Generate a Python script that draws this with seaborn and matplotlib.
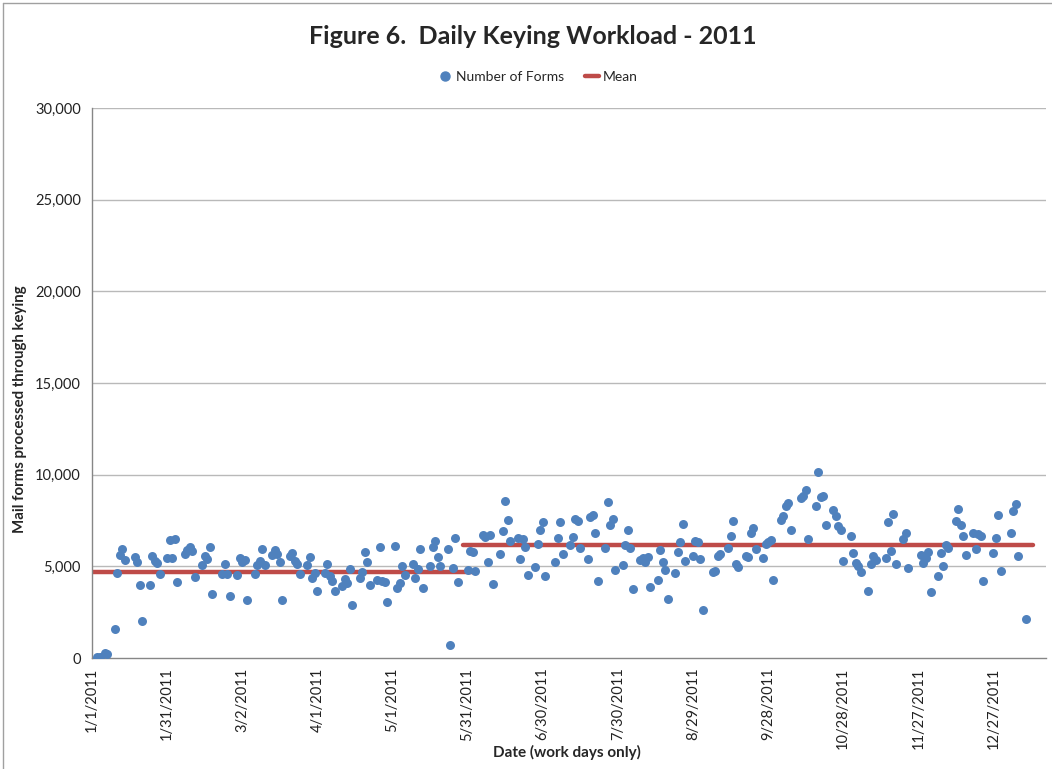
import pandas as pd
import numpy as np
import seaborn as sns
import matplotlib
matplotlib.use("Agg")
import matplotlib.pyplot as plt
from matplotlib.lines import Line2D

# work days, as day offsets from 1/1/2011, and forms keyed that day
day_offset = [2, 3, 5, 6, 9, 10, 11, 12, 13, 17, 18, 19, 20, 23, 24, 25, 26, 27,
              30, 31, 32, 33, 34, 37, 38, 39, 40, 41, 44, 45, 46, 47, 48,
              52, 53, 54, 55, 58, 59, 60, 61, 62, 65, 66, 67, 68, 69,
              72, 73, 74, 75, 76, 79, 80, 81, 82, 83, 86, 87, 88, 89, 90,
              93, 94, 95, 96, 97, 100, 101, 102, 103, 104, 107, 108, 109, 110, 111,
              114, 115, 116, 117, 118, 121, 122, 123, 124, 125, 128, 129, 130, 131, 132,
              135, 136, 137, 138, 139, 142, 143, 144, 145, 146, 150, 151, 152, 153,
              156, 157, 158, 159, 160, 163, 164, 165, 166, 167, 170, 171, 172, 173, 174,
              177, 178, 179, 180, 181, 185, 186, 187, 188, 191, 192, 193, 194, 195,
              198, 199, 200, 201, 202, 205, 206, 207, 208, 209, 212, 213, 214, 215, 216,
              219, 220, 221, 222, 223, 226, 227, 228, 229, 230, 233, 234, 235, 236, 237,
              240, 241, 242, 243, 244, 248, 249, 250, 251, 254, 255, 256, 257, 258,
              261, 262, 263, 264, 265, 268, 269, 270, 271, 272, 275, 276, 277, 278, 279,
              283, 284, 285, 286, 289, 290, 291, 292, 293, 296, 297, 298, 299, 300,
              303, 304, 305, 306, 307, 310, 311, 312, 313, 317, 318, 319, 320, 321,
              324, 325, 326, 331, 332, 333, 334, 335, 338, 339, 340, 341, 342,
              345, 346, 347, 348, 349, 352, 353, 354, 355, 356, 360, 361, 362, 363,
              367, 368, 369, 370, 373]
forms = [60, 30, 270, 220, 1580, 4640, 5640, 5950, 5330, 5490, 5240, 3960, 2020, 4000, 5540, 5270, 5180, 4560,
         5430, 6440, 5430, 6490, 4120, 5670, 5910, 6050, 5820, 4420, 5050, 5540, 5420, 6030, 3490,
         4580, 5140, 4580, 3400, 4510, 5460, 5220, 5330, 3160, 4580, 5090, 5270, 5950, 5050,
         5640, 5910, 5670, 5220, 3180, 5580, 5730, 5310, 5140, 4580, 5050, 5510, 4360, 4640, 3630,
         4620, 5140, 4450, 4200, 3630, 3940, 4310, 4090, 4870, 2870, 4360, 4670, 5780, 5240, 4000,
         4270, 6070, 4220, 4120, 3070, 6130, 3820, 4090, 5000, 4530, 5130, 4360, 4870, 5960, 3800,
         5040, 6070, 6400, 5510, 5020, 5950, 710, 4930, 6560, 4150, 4780, 5850, 5780, 4750,
         6690, 6600, 5250, 6690, 4050, 5650, 6930, 8540, 7530, 6380, 6560, 5380, 6490, 6070, 4510,
         4940, 6220, 7000, 7420, 4490, 5250, 6560, 7420, 5670, 6180, 6580, 7600, 7450, 6000,
         5400, 7670, 7820, 6840, 4200, 5980, 8510, 7230, 7560, 4800, 5090, 6180, 6960, 5980, 3760,
         5360, 5470, 5220, 5530, 3870, 4230, 5870, 5250, 4800, 3220, 4650, 5780, 6350, 7290, 5290,
         5540, 6380, 6330, 5380, 2620, 4670, 4750, 5560, 5650, 5980, 6630, 7450, 5140, 4980,
         5540, 5510, 6800, 7090, 5950, 5470, 6220, 6330, 6420, 4270, 7530, 7720, 8310, 8460, 6960,
         8730, 8850, 9180, 6510, 8310, 10160, 8780, 8850, 7230, 8090, 7760, 7180, 7000, 5290,
         6630, 5740, 5180, 5000, 4690, 3650, 5140, 5540, 5350, 5430, 7420, 5850, 7870, 5140,
         6490, 6820, 4890, 5600, 5180, 5460, 5780, 3600, 4490, 5740, 5040, 6160, 6020,
         7470, 8110, 7230, 6630, 5640, 6840, 5950, 6740, 6630, 4200, 5710, 6550, 7820, 4730,
         6800, 8000, 8420, 5540, 2130]

# two period means (Jan-May, Jun-Jan)
mean_start = [0, 148]
mean_end = [152, 376]
mean_value = [4670, 6170]

y_ticks = [0, 5000, 10000, 15000, 20000, 25000, 30000]
x_tick_offsets = [0, 30, 60, 90, 120, 150, 180, 210, 240, 270, 300, 330, 360]

base = pd.Timestamp("2011-01-01")
df = pd.DataFrame({"date": base + pd.to_timedelta(day_offset, unit="D"), "forms": forms})

mean_rows = []
for i, (s, e, v) in enumerate(zip(mean_start, mean_end, mean_value)):
    mean_rows.append({"date": base + pd.Timedelta(days=s), "value": v, "seg": i})
    mean_rows.append({"date": base + pd.Timedelta(days=e), "value": v, "seg": i})
mean_df = pd.DataFrame(mean_rows)

sns.set_style("white")
plt.rcParams["font.family"] = ["Lato", "DejaVu Sans"]

blue = "#4f81bd"
red = "#be4b48"

fig = plt.figure(figsize=(10.52, 7.69), dpi=100)
ax = fig.add_axes([92 / 1052, 1 - 658 / 769, (1046 - 92) / 1052, (658 - 108) / 769])

for tick in y_ticks[1:]:
    ax.axhline(tick, color="#b9b9b9", lw=1.0, zorder=0)

sns.lineplot(data=mean_df, x="date", y="value", units="seg", estimator=None,
             color=red, lw=3.2, ax=ax, zorder=2, legend=False)
sns.scatterplot(data=df, x="date", y="forms", color=blue, s=42, linewidth=0,
                ax=ax, zorder=3, legend=False)

ax.set_ylim(0, 30000)
ax.set_xlim(base, base + pd.Timedelta(days=381))
ax.set_yticks(y_ticks)
ax.yaxis.set_major_formatter(matplotlib.ticker.FuncFormatter(lambda v, p: f"{int(v):,}"))
xt = [base + pd.Timedelta(days=d) for d in x_tick_offsets]
ax.set_xticks(xt)
ax.set_xticklabels([f"{d.month}/{d.day}/{d.year}" for d in xt], rotation=90)

for side in ["top", "right"]:
    ax.spines[side].set_visible(False)
for side in ["left", "bottom"]:
    ax.spines[side].set_color("#868686")
    ax.spines[side].set_linewidth(1.0)
ax.tick_params(axis="both", direction="out", length=5, width=1, color="#868686",
               labelsize=10.5, labelcolor="#222222", pad=3)
ax.tick_params(axis="x", pad=2)
ax.set_xlabel("")
ax.set_ylabel("")

fig.text(567 / 1052, 1 - 752 / 769, "Date (work days only)", ha="center", va="center",
         fontsize=11, fontweight="bold")
fig.text(20 / 1052, 1 - 409 / 769, "Mail forms processed through keying", ha="center",
         va="center", rotation=90, fontsize=10.8, fontweight="bold")
fig.text(533 / 1052, 1 - 36 / 769, "Figure 6.  Daily Keying Workload - 2011", ha="center",
         va="center", fontsize=18, fontweight="bold")

handles = [Line2D([], [], marker="o", ls="none", color=blue, markersize=6.5),
           Line2D([], [], color=red, lw=3.2)]
fig.legend(handles, ["Number of Forms", "Mean"], loc="center", ncol=2,
           bbox_to_anchor=(538 / 1052, 1 - 77 / 769), frameon=False, fontsize=10,
           handlelength=1.0, handletextpad=0.3, columnspacing=1.5)

# chart area border (Excel style)
fig.add_artist(Line2D([3 / 1052, 3 / 1052], [0, 1 - 3 / 769], color="#a0a0a0", lw=1))
fig.add_artist(Line2D([3 / 1052, 1], [1 - 3 / 769, 1 - 3 / 769], color="#a0a0a0", lw=1))

fig.savefig("out.png", dpi=100)
